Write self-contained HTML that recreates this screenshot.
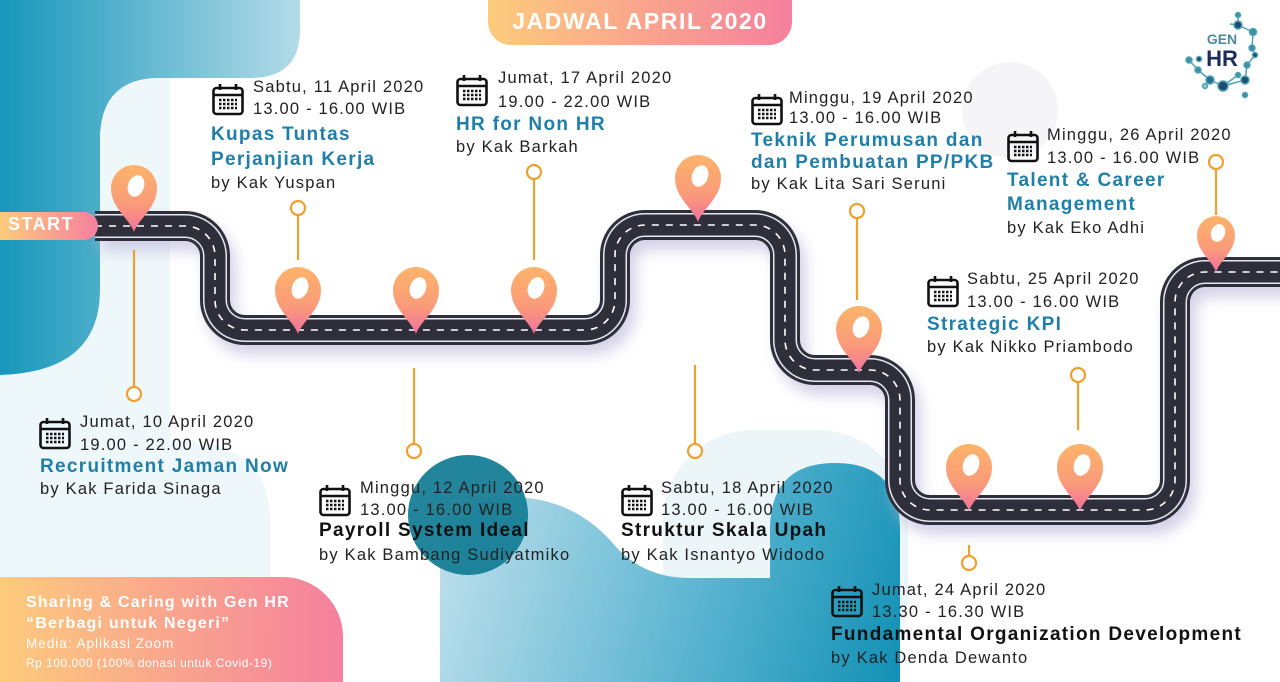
<!DOCTYPE html>
<html><head><meta charset="utf-8">
<style>
*{margin:0;padding:0;box-sizing:border-box}
body{width:1280px;height:682px;overflow:hidden;background:#fff;font-family:"Liberation Sans",sans-serif;position:relative}
.t{position:absolute;white-space:nowrap;color:#222;font-size:16.5px;line-height:20px;letter-spacing:1.2px}
.h{position:absolute;white-space:nowrap;color:#1f7fa8;font-size:19px;font-weight:bold;letter-spacing:1.3px;line-height:22px}
.k{color:#111}
</style></head><body>
<svg width="1280" height="682" style="position:absolute;left:0;top:0">
<defs>
<linearGradient id="tl" x1="0" x2="1" y1="0" y2="0"><stop offset="0" stop-color="#1797bb"/><stop offset="1" stop-color="#b4dbe8"/></linearGradient>
<linearGradient id="og" x1="0" x2="1"><stop offset="0" stop-color="#fdcb7c"/><stop offset="1" stop-color="#f5809e"/></linearGradient>
<linearGradient id="pin" x1="0" y1="0" x2="0" y2="1"><stop offset="0" stop-color="#fdb46a"/><stop offset=".6" stop-color="#fa9a7a"/><stop offset="1" stop-color="#f2709e"/></linearGradient>
<linearGradient id="bl" gradientUnits="userSpaceOnUse" x1="440" y1="520" x2="900" y2="650"><stop offset="0" stop-color="#bfe0ec"/><stop offset=".6" stop-color="#55b2cf"/><stop offset="1" stop-color="#1592b6"/></linearGradient>
<filter id="sh" x="-10%" y="-10%" width="120%" height="130%"><feGaussianBlur stdDeviation="7"/></filter>
</defs>
<!-- left background -->
<path d="M0 0 H300 V30 Q300 78 250 78 H160 Q100 78 100 140 V290 Q100 372 0 375 Z" fill="url(#tl)"/>
<path d="M100 140 Q100 78 160 78 H170 V577 H0 V375 Q100 372 100 290 Z" fill="#eef7fa"/>
<path d="M170 440 Q270 440 270 520 V577 H170 Z" fill="#eef7fa"/>
<!-- bottom blobs -->
<rect x="663" y="430" width="245" height="260" rx="90" fill="#ecf6f9"/>
<path d="M440 682 V560 Q440 497 510 497 Q570 497 610 540 Q640 578 690 578 H770 V530 Q770 463 835 463 Q900 463 900 530 V682 Z" fill="url(#bl)"/>
<circle cx="468" cy="515" r="60" fill="#167e96" opacity=".95"/>
<circle cx="1010" cy="110" r="48" fill="#f5f5f7"/>
<path d="M0 577 H283 A60 60 0 0 1 343 637 V682 H0 Z" fill="url(#og)"/>
<!-- title -->
<path d="M488 0 H792 V22 A23 23 0 0 1 769 45 H511 A23 23 0 0 1 488 22 Z" fill="url(#og)"/>
<!-- road -->
<g fill="none">
<path d="M95 226 H185 A30 30 0 0 1 215 256 V300 A30 30 0 0 0 245 330 H585 A30 30 0 0 0 615 300 V255 A30 30 0 0 1 645 225 H755 A30 30 0 0 1 785 255 V340 A30 30 0 0 0 815 370 H870 A30 30 0 0 1 900 400 V480 A30 30 0 0 0 930 510 H1145 A30 30 0 0 0 1175 480 V302 A30 30 0 0 1 1205 272 H1290" stroke="#b9b4d8" stroke-width="30" opacity=".6" filter="url(#sh)" transform="translate(6,10)"/>
<path d="M95 226 H185 A30 30 0 0 1 215 256 V300 A30 30 0 0 0 245 330 H585 A30 30 0 0 0 615 300 V255 A30 30 0 0 1 645 225 H755 A30 30 0 0 1 785 255 V340 A30 30 0 0 0 815 370 H870 A30 30 0 0 1 900 400 V480 A30 30 0 0 0 930 510 H1145 A30 30 0 0 0 1175 480 V302 A30 30 0 0 1 1205 272 H1290" stroke="#2f2f3c" stroke-width="30"/>
<path d="M95 226 H185 A30 30 0 0 1 215 256 V300 A30 30 0 0 0 245 330 H585 A30 30 0 0 0 615 300 V255 A30 30 0 0 1 645 225 H755 A30 30 0 0 1 785 255 V340 A30 30 0 0 0 815 370 H870 A30 30 0 0 1 900 400 V480 A30 30 0 0 0 930 510 H1145 A30 30 0 0 0 1175 480 V302 A30 30 0 0 1 1205 272 H1290" stroke="#e6e6ee" stroke-width="24"/>
<path d="M95 226 H185 A30 30 0 0 1 215 256 V300 A30 30 0 0 0 245 330 H585 A30 30 0 0 0 615 300 V255 A30 30 0 0 1 645 225 H755 A30 30 0 0 1 785 255 V340 A30 30 0 0 0 815 370 H870 A30 30 0 0 1 900 400 V480 A30 30 0 0 0 930 510 H1145 A30 30 0 0 0 1175 480 V302 A30 30 0 0 1 1205 272 H1290" stroke="#2f2f3c" stroke-width="21"/>
<path d="M95 226 H185 A30 30 0 0 1 215 256 V300 A30 30 0 0 0 245 330 H585 A30 30 0 0 0 615 300 V255 A30 30 0 0 1 645 225 H755 A30 30 0 0 1 785 255 V340 A30 30 0 0 0 815 370 H870 A30 30 0 0 1 900 400 V480 A30 30 0 0 0 930 510 H1145 A30 30 0 0 0 1175 480 V302 A30 30 0 0 1 1205 272 H1290" stroke="#fff" stroke-width="1.6" stroke-dasharray="7 7"/>
</g>
<!-- START -->
<path d="M0 212 H84 A14 14 0 0 1 84 240 H0 Z" fill="url(#og)"/>
<!-- connectors -->
<g stroke="#eea12e" stroke-width="2.2" fill="none">
<line x1="134" y1="250" x2="134" y2="386"/><circle cx="134" cy="394" r="7" fill="#fff"/>
<line x1="298" y1="215" x2="298" y2="260"/><circle cx="298" cy="208" r="7" fill="#fff"/>
<line x1="534" y1="179" x2="534" y2="260"/><circle cx="534" cy="172" r="7" fill="#fff"/>
<line x1="414" y1="368" x2="414" y2="443"/><circle cx="414" cy="451" r="7" fill="#fff"/>
<line x1="695" y1="365" x2="695" y2="443"/><circle cx="695" cy="451" r="7" fill="#fff"/>
<line x1="857" y1="218" x2="857" y2="300"/><circle cx="857" cy="211" r="7" fill="#fff"/>
<line x1="1078" y1="382" x2="1078" y2="430"/><circle cx="1078" cy="375" r="7" fill="#fff"/>
<line x1="969" y1="545" x2="969" y2="556"/><circle cx="969" cy="563" r="7" fill="#fff"/>
<line x1="1216" y1="169" x2="1216" y2="215"/><circle cx="1216" cy="162" r="7" fill="#fff"/>
</g>
<!-- pins -->
<g>
<g transform="translate(134,232)"><path d="M0 0 C-5 -14 -23 -24 -23 -44 A23 23 0 1 1 23 -44 C23 -24 5 -14 0 0Z" fill="url(#pin)"/><ellipse cx="2" cy="-46" rx="8" ry="11" fill="#fff" transform="rotate(20 2 -46)"/></g>
<g transform="translate(298,334)"><path d="M0 0 C-5 -14 -23 -24 -23 -44 A23 23 0 1 1 23 -44 C23 -24 5 -14 0 0Z" fill="url(#pin)"/><ellipse cx="2" cy="-46" rx="8" ry="11" fill="#fff" transform="rotate(20 2 -46)"/></g>
<g transform="translate(416,334)"><path d="M0 0 C-5 -14 -23 -24 -23 -44 A23 23 0 1 1 23 -44 C23 -24 5 -14 0 0Z" fill="url(#pin)"/><ellipse cx="2" cy="-46" rx="8" ry="11" fill="#fff" transform="rotate(20 2 -46)"/></g>
<g transform="translate(534,334)"><path d="M0 0 C-5 -14 -23 -24 -23 -44 A23 23 0 1 1 23 -44 C23 -24 5 -14 0 0Z" fill="url(#pin)"/><ellipse cx="2" cy="-46" rx="8" ry="11" fill="#fff" transform="rotate(20 2 -46)"/></g>
<g transform="translate(698,222)"><path d="M0 0 C-5 -14 -23 -24 -23 -44 A23 23 0 1 1 23 -44 C23 -24 5 -14 0 0Z" fill="url(#pin)"/><ellipse cx="2" cy="-46" rx="8" ry="11" fill="#fff" transform="rotate(20 2 -46)"/></g>
<g transform="translate(859,373)"><path d="M0 0 C-5 -14 -23 -24 -23 -44 A23 23 0 1 1 23 -44 C23 -24 5 -14 0 0Z" fill="url(#pin)"/><ellipse cx="2" cy="-46" rx="8" ry="11" fill="#fff" transform="rotate(20 2 -46)"/></g>
<g transform="translate(969,511)"><path d="M0 0 C-5 -14 -23 -24 -23 -44 A23 23 0 1 1 23 -44 C23 -24 5 -14 0 0Z" fill="url(#pin)"/><ellipse cx="2" cy="-46" rx="8" ry="11" fill="#fff" transform="rotate(20 2 -46)"/></g>
<g transform="translate(1080,511)"><path d="M0 0 C-5 -14 -23 -24 -23 -44 A23 23 0 1 1 23 -44 C23 -24 5 -14 0 0Z" fill="url(#pin)"/><ellipse cx="2" cy="-46" rx="8" ry="11" fill="#fff" transform="rotate(20 2 -46)"/></g>
<g transform="translate(1216,272)"><path d="M0 0 C-4 -12 -19 -20 -19 -37 A19 19 0 1 1 19 -37 C19 -20 4 -12 0 0Z" fill="url(#pin)"/><ellipse cx="2" cy="-39" rx="7" ry="9" fill="#fff" transform="rotate(20 2 -39)"/></g>
</g>
<!-- calendar icons -->
<g fill="none" stroke="#111" stroke-width="2.6">
<g transform="translate(212,84)"><rect x="1.5" y="4" width="29" height="26" rx="3"/><line x1="1.5" y1="11" x2="30.5" y2="11"/><line x1="8" y1="0" x2="8" y2="6"/><line x1="24" y1="0" x2="24" y2="6"/><path d="M7 16h18M7 20h18M7 24h18" stroke-dasharray="2.5 1.5" stroke-width="2.5"/></g>
<g transform="translate(456,75)"><rect x="1.5" y="4" width="29" height="26" rx="3"/><line x1="1.5" y1="11" x2="30.5" y2="11"/><line x1="8" y1="0" x2="8" y2="6"/><line x1="24" y1="0" x2="24" y2="6"/><path d="M7 16h18M7 20h18M7 24h18" stroke-dasharray="2.5 1.5" stroke-width="2.5"/></g>
<g transform="translate(751,94)"><rect x="1.5" y="4" width="29" height="26" rx="3"/><line x1="1.5" y1="11" x2="30.5" y2="11"/><line x1="8" y1="0" x2="8" y2="6"/><line x1="24" y1="0" x2="24" y2="6"/><path d="M7 16h18M7 20h18M7 24h18" stroke-dasharray="2.5 1.5" stroke-width="2.5"/></g>
<g transform="translate(1007,131)"><rect x="1.5" y="4" width="29" height="26" rx="3"/><line x1="1.5" y1="11" x2="30.5" y2="11"/><line x1="8" y1="0" x2="8" y2="6"/><line x1="24" y1="0" x2="24" y2="6"/><path d="M7 16h18M7 20h18M7 24h18" stroke-dasharray="2.5 1.5" stroke-width="2.5"/></g>
<g transform="translate(927,276)"><rect x="1.5" y="4" width="29" height="26" rx="3"/><line x1="1.5" y1="11" x2="30.5" y2="11"/><line x1="8" y1="0" x2="8" y2="6"/><line x1="24" y1="0" x2="24" y2="6"/><path d="M7 16h18M7 20h18M7 24h18" stroke-dasharray="2.5 1.5" stroke-width="2.5"/></g>
<g transform="translate(39,418)"><rect x="1.5" y="4" width="29" height="26" rx="3"/><line x1="1.5" y1="11" x2="30.5" y2="11"/><line x1="8" y1="0" x2="8" y2="6"/><line x1="24" y1="0" x2="24" y2="6"/><path d="M7 16h18M7 20h18M7 24h18" stroke-dasharray="2.5 1.5" stroke-width="2.5"/></g>
<g transform="translate(319,485)"><rect x="1.5" y="4" width="29" height="26" rx="3"/><line x1="1.5" y1="11" x2="30.5" y2="11"/><line x1="8" y1="0" x2="8" y2="6"/><line x1="24" y1="0" x2="24" y2="6"/><path d="M7 16h18M7 20h18M7 24h18" stroke-dasharray="2.5 1.5" stroke-width="2.5"/></g>
<g transform="translate(621,485)"><rect x="1.5" y="4" width="29" height="26" rx="3"/><line x1="1.5" y1="11" x2="30.5" y2="11"/><line x1="8" y1="0" x2="8" y2="6"/><line x1="24" y1="0" x2="24" y2="6"/><path d="M7 16h18M7 20h18M7 24h18" stroke-dasharray="2.5 1.5" stroke-width="2.5"/></g>
<g transform="translate(831,586)"><rect x="1.5" y="4" width="29" height="26" rx="3"/><line x1="1.5" y1="11" x2="30.5" y2="11"/><line x1="8" y1="0" x2="8" y2="6"/><line x1="24" y1="0" x2="24" y2="6"/><path d="M7 16h18M7 20h18M7 24h18" stroke-dasharray="2.5 1.5" stroke-width="2.5"/></g>
</g>
<!-- logo network -->
<g stroke="#4fa3b3" stroke-width="1.5" fill="#3d8ea6">
<line x1="1238" y1="16" x2="1238" y2="25"/><line x1="1238" y1="25" x2="1253" y2="32"/><line x1="1253" y1="32" x2="1252" y2="48"/><line x1="1252" y1="48" x2="1255" y2="55"/><line x1="1255" y1="55" x2="1247" y2="65"/><line x1="1247" y1="65" x2="1245" y2="80"/><line x1="1245" y1="80" x2="1223" y2="86"/><line x1="1223" y1="86" x2="1210" y2="80"/><line x1="1210" y1="80" x2="1198" y2="70"/><line x1="1198" y1="70" x2="1189" y2="60"/><line x1="1223" y1="86" x2="1238" y2="75"/><line x1="1230" y1="24" x2="1238" y2="25"/>
<circle cx="1238" cy="15" r="2.5"/><circle cx="1238" cy="25" r="4" fill="#1e4d73"/><circle cx="1253" cy="32" r="3.5"/><circle cx="1252" cy="48" r="3"/><circle cx="1255" cy="55" r="2.5" fill="#1e4d73"/><circle cx="1247" cy="65" r="3"/><circle cx="1245" cy="80" r="4" fill="#1e4d73"/><circle cx="1223" cy="86" r="5" fill="#1e4d73"/><circle cx="1210" cy="80" r="4" fill="#2b6f8f"/><circle cx="1198" cy="70" r="3"/><circle cx="1189" cy="60" r="3"/><circle cx="1199" cy="59" r="2.5" fill="#2c3d73"/><circle cx="1238" cy="75" r="2.5"/><circle cx="1245" cy="95" r="2.5"/><circle cx="1205" cy="86" r="2.5" fill="#8cc7d3"/>
</g>
<text x="1222" y="44" text-anchor="middle" font-family="Liberation Sans" font-weight="bold" font-size="14" fill="#4a8c9e">GEN</text>
<text x="1222" y="66" text-anchor="middle" font-family="Liberation Sans" font-weight="bold" font-size="22" fill="#1d2b5e">HR</text>
</svg>

<div style="position:absolute;left:488px;top:8px;width:304px;text-align:center;color:#fff;font-weight:bold;font-size:23px;letter-spacing:1.6px">JADWAL APRIL 2020</div>
<div style="position:absolute;left:8px;top:214px;color:#fff;font-weight:bold;font-size:18px;letter-spacing:1.5px">START</div>

<div class="t" style="left:253px;top:77px">Sabtu, 11 April 2020</div>
<div class="t" style="left:253px;top:99px">13.00 - 16.00 WIB</div>
<div class="h" style="left:211px;top:124px">Kupas Tuntas</div>
<div class="h" style="left:211px;top:149px">Perjanjian Kerja</div>
<div class="t" style="left:211px;top:173px">by Kak Yuspan</div>

<div class="t" style="left:498px;top:68px">Jumat, 17 April 2020</div>
<div class="t" style="left:498px;top:92px">19.00 - 22.00 WIB</div>
<div class="h" style="left:456px;top:114px">HR for Non HR</div>
<div class="t" style="left:456px;top:137px">by Kak Barkah</div>

<div class="t" style="left:789px;top:88px">Minggu, 19 April 2020</div>
<div class="t" style="left:789px;top:108px">13.00 - 16.00 WIB</div>
<div class="h" style="left:751px;top:130px">Teknik Perumusan dan</div>
<div class="h" style="left:751px;top:152px">dan Pembuatan PP/PKB</div>
<div class="t" style="left:751px;top:174px">by Kak Lita Sari Seruni</div>

<div class="t" style="left:1047px;top:125px">Minggu, 26 April 2020</div>
<div class="t" style="left:1047px;top:148px">13.00 - 16.00 WIB</div>
<div class="h" style="left:1007px;top:170px">Talent &amp; Career</div>
<div class="h" style="left:1007px;top:194px">Management</div>
<div class="t" style="left:1007px;top:218px">by Kak Eko Adhi</div>

<div class="t" style="left:967px;top:269px">Sabtu, 25 April 2020</div>
<div class="t" style="left:967px;top:292px">13.00 - 16.00 WIB</div>
<div class="h" style="left:927px;top:314px">Strategic KPI</div>
<div class="t" style="left:927px;top:337px">by Kak Nikko Priambodo</div>

<div class="t" style="left:80px;top:412px">Jumat, 10 April 2020</div>
<div class="t" style="left:80px;top:435px">19.00 - 22.00 WIB</div>
<div class="h" style="left:40px;top:456px">Recruitment Jaman Now</div>
<div class="t" style="left:40px;top:479px">by Kak Farida Sinaga</div>

<div class="t" style="left:360px;top:478px">Minggu, 12 April 2020</div>
<div class="t" style="left:360px;top:500px">13.00 - 16.00 WIB</div>
<div class="h k" style="left:319px;top:520px">Payroll System Ideal</div>
<div class="t" style="left:319px;top:545px">by Kak Bambang Sudiyatmiko</div>

<div class="t" style="left:661px;top:478px">Sabtu, 18 April 2020</div>
<div class="t" style="left:661px;top:500px">13.00 - 16.00 WIB</div>
<div class="h k" style="left:621px;top:520px">Struktur Skala Upah</div>
<div class="t" style="left:621px;top:545px">by Kak Isnantyo Widodo</div>

<div class="t" style="left:872px;top:580px">Jumat, 24 April 2020</div>
<div class="t" style="left:872px;top:602px">13.30 - 16.30 WIB</div>
<div class="h k" style="left:831px;top:624px">Fundamental Organization Development</div>
<div class="t" style="left:831px;top:648px">by Kak Denda Dewanto</div>

<div style="position:absolute;left:26px;top:592px;color:#fff;font-weight:bold;font-size:16px;letter-spacing:1.2px;line-height:21px;white-space:nowrap">Sharing &amp; Caring with Gen HR<br>“Berbagi untuk Negeri”</div>
<div style="position:absolute;left:26px;top:636px;color:#fff;font-size:13.5px;letter-spacing:1px;white-space:nowrap">Media: Aplikasi Zoom</div>
<div style="position:absolute;left:26px;top:656px;color:#fff;font-size:12px;letter-spacing:.5px;white-space:nowrap">Rp 100.000 (100% donasi untuk Covid-19)</div>
</body></html>
